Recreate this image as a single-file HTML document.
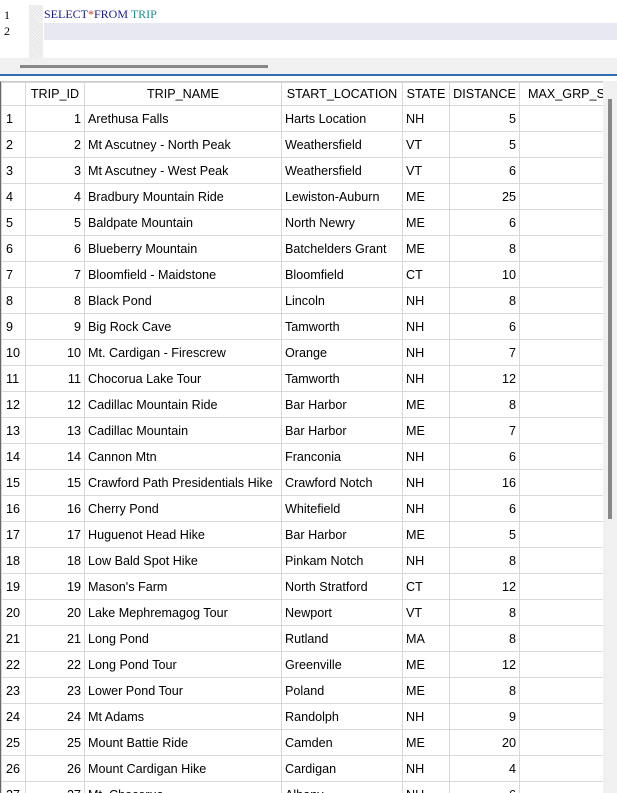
<!DOCTYPE html>
<html><head><meta charset="utf-8"><style>
body{margin:0;width:617px;height:793px;overflow:hidden;background:#fff;font-family:Tahoma,"Liberation Sans",sans-serif;font-size:12.6px;color:#000;position:relative}
.abs{position:absolute}
#editor{left:0;top:5px;width:617px;height:53px;background:#fff}
.ln{position:absolute;left:4px;font-family:"Liberation Serif",serif;font-size:12px}
#gutterdots{left:29px;top:5px;width:14px;height:53px;background:repeating-linear-gradient(45deg,#e4e4e4 0 1px,#f6f6f6 1px 2px)}
#curline{left:44px;top:23px;width:573px;height:17px;background:#e8e8f2}
#sql{left:44px;top:7px;font-family:"Liberation Serif",serif;font-size:12px}
#hsb{left:0;top:58px;width:617px;height:16px;background:#f0f0f0}
#hthumb{left:20px;top:65px;width:248px;height:3px;background:#888}
#blue{left:0;top:74px;width:617px;height:2px;background:#2d6fb0}
#grid{left:0;top:81px;width:603px;height:712px;overflow:hidden;border-left:1px solid #666;border-top:1px solid #ccc;box-sizing:border-box}
table{border-collapse:collapse;table-layout:fixed;width:603px}
td,th{border:1px solid #d8d8d8;height:25px;padding:0 3px;white-space:nowrap;overflow:hidden;font-weight:normal;text-align:left}
th{text-align:center;height:22px}
td.n{text-align:right}
td.rn{padding-left:4px}
#vsb{left:603px;top:81px;width:14px;height:712px;background:#f0f0f0}
#vthumb{left:608px;top:99px;width:4px;height:420px;background:#888}
</style></head><body>
<div class="abs" id="editor"></div>
<div class="abs" id="gutterdots"></div>
<div class="abs" id="curline"></div>
<span class="ln" style="top:8px">1</span>
<span class="ln" style="top:24px">2</span>
<div class="abs" id="sql"><span style="color:#1a1a8c">SELECT</span><span style="color:#c0392b">*</span><span style="color:#1a1a8c">FROM</span> <span style="color:#1a9090">TRIP</span></div>
<div class="abs" id="hsb"></div>
<div class="abs" id="hthumb"></div>
<div class="abs" id="blue"></div>
<div class="abs" id="grid">
<table id="t">
<colgroup><col style="width:24px"><col style="width:59px"><col style="width:197px"><col style="width:121px"><col style="width:47px"><col style="width:70px"><col style="width:85px"></colgroup>
<thead><tr><th></th><th>TRIP_ID</th><th>TRIP_NAME</th><th>START_LOCATION</th><th>STATE</th><th>DISTANCE</th><th style="text-align:left;padding-left:8px">MAX_GRP_S</th></tr></thead>
<tbody id="tb"></tbody></table>
</div>
<div class="abs" id="vsb"></div>
<div class="abs" id="vthumb"></div>
<script>
const names=["Arethusa Falls","Mt Ascutney - North Peak","Mt Ascutney - West Peak","Bradbury Mountain Ride","Baldpate Mountain","Blueberry Mountain","Bloomfield - Maidstone","Black Pond","Big Rock Cave","Mt. Cardigan - Firescrew","Chocorua Lake Tour","Cadillac Mountain Ride","Cadillac Mountain","Cannon Mtn","Crawford Path Presidentials Hike","Cherry Pond","Huguenot Head Hike","Low Bald Spot Hike","Mason's Farm","Lake Mephremagog Tour","Long Pond","Long Pond Tour","Lower Pond Tour","Mt Adams","Mount Battie Ride","Mount Cardigan Hike","Mt. Chocorua"];
const locs=["Harts Location","Weathersfield","Weathersfield","Lewiston-Auburn","North Newry","Batchelders Grant","Bloomfield","Lincoln","Tamworth","Orange","Tamworth","Bar Harbor","Bar Harbor","Franconia","Crawford Notch","Whitefield","Bar Harbor","Pinkam Notch","North Stratford","Newport","Rutland","Greenville","Poland","Randolph","Camden","Cardigan","Albany"];
const states=["NH","VT","VT","ME","ME","ME","CT","NH","NH","NH","NH","ME","ME","NH","NH","NH","ME","NH","CT","VT","MA","ME","ME","NH","ME","NH","NH"];
const dists=[5,5,6,25,6,8,10,8,6,7,12,8,7,6,16,6,5,8,12,8,8,12,8,9,20,4,6];
const tb=document.getElementById('tb');
for(let i=0;i<names.length;i++){
  const tr=document.createElement('tr');
  
  
  const vals=[[i+1,'rn'],[i+1,'n'],[names[i],''],[locs[i],''],[states[i],''],[dists[i],'n'],['','']];
  vals.forEach((v,j)=>{const td=document.createElement('td');td.textContent=v[0];if(v[1])td.className=v[1];
    
    
    tr.appendChild(td);});
  tb.appendChild(tr);
}
</script>
</body></html>
